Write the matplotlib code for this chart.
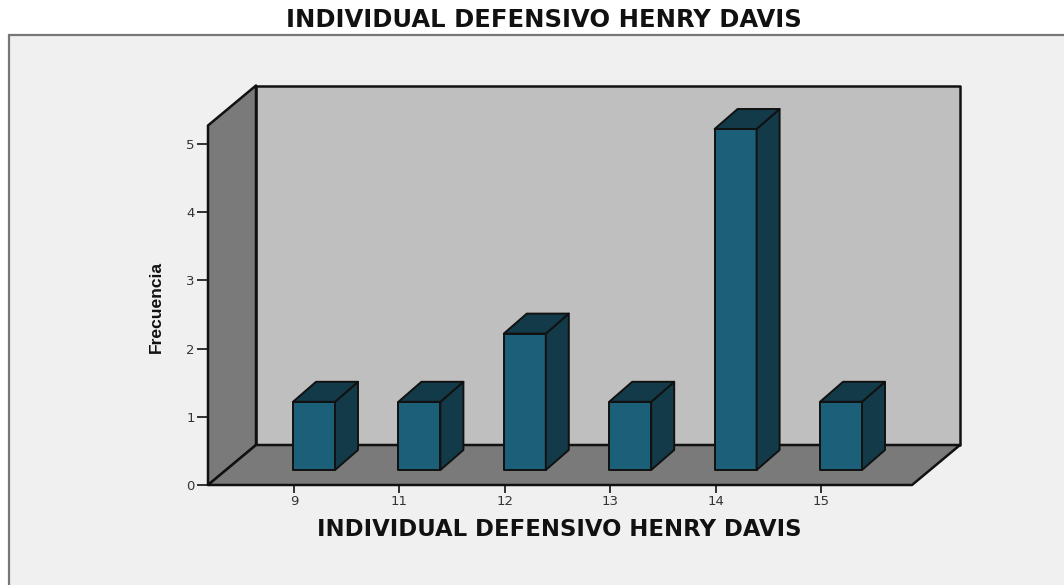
import matplotlib
matplotlib.use("Agg")
import matplotlib.pyplot as plt
from matplotlib.patches import Polygon, Rectangle

categories = ["9", "11", "12", "13", "14", "15"]
frecuencia = [1, 1, 2, 1, 5, 1]
y_ticks = [0, 1, 2, 3, 4, 5]
title = "INDIVIDUAL DEFENSIVO HENRY DAVIS"
xlabel = "INDIVIDUAL DEFENSIVO HENRY DAVIS"
ylabel = "Frecuencia"

W, H = 1064, 585
PANEL = "#f0f0f0"
BACK = "#bfbfbf"
SIDE = "#7a7a7a"
FRONT = "#1c5f78"
DARK = "#123a48"
EDGE = "#111111"

fig = plt.figure(figsize=(W / 100, H / 100), dpi=100, facecolor="white")
fig.add_artist(Rectangle((9 / W, -0.01), 1.01, 1 - 35 / H + 0.01, transform=fig.transFigure,
                         fc=PANEL, ec="#777777", lw=1.6, zorder=-1))

# plot box: left/right of front plane, y baseline to top of the side wall
px_left, px_right, px_base, px_top = 208, 912, 485, 125.5
ax = fig.add_axes([px_left / W, 1 - px_base / H, (px_right - px_left) / W, (px_base - px_top) / H])
ppx = 105.4            # pixels per category step
ppy = 68.2             # pixels per frequency unit
first_tick_px = 294
ax.set_xlim((px_left - first_tick_px) / ppx, (px_right - first_tick_px) / ppx)
ax.set_ylim(0, (px_base - px_top) / ppy)
ax.patch.set_visible(False)

dx, dy = 48 / ppx, 40 / ppy         # depth of the chart box
bx, by = 23 / ppx, 20 / ppy         # depth of a bar
x0, x1 = ax.get_xlim()
y0, y1 = ax.get_ylim()
lw = 1.8


def poly(points, fc, z, lw=lw):
    ax.add_patch(Polygon(points, closed=True, fc=fc, ec=EDGE, lw=lw, joinstyle="round",
                         clip_on=False, zorder=z))


poly([(x0 + dx, y0 + dy), (x1 + dx, y0 + dy), (x1 + dx, y1 + dy), (x0 + dx, y1 + dy)], BACK, 1)
poly([(x0, y0), (x0 + dx, y0 + dy), (x0 + dx, y1 + dy), (x0, y1)], SIDE, 2)
poly([(x0, y0), (x1, y0), (x1 + dx, y0 + dy), (x0 + dx, y0 + dy)], SIDE, 2)

bar_w = 42 / ppx
front_off = 20 / ppx - bar_w / 2    # front face is shifted forward of the tick position
base = 15 / ppy
for i, v in enumerate(frecuencia):
    l = i + front_off
    r = l + bar_w
    b, t = base, base + v
    z = 3 + i
    poly([(l, b), (r, b), (r, t), (l, t)], FRONT, z, 1.4)
    poly([(r, b), (r + bx, b + by), (r + bx, t + by), (r, t)], DARK, z, 1.4)
    poly([(l, t), (r, t), (r + bx, t + by), (l + bx, t + by)], DARK, z, 1.4)

ax.set_xticks(range(len(categories)), categories)
ax.set_yticks(y_ticks)
for s in ax.spines.values():
    s.set_visible(False)
ax.tick_params(axis="both", width=1.3, color="#222222", labelcolor="#333333", labelsize=9.5)
ax.tick_params(axis="y", length=8, pad=1.5)
ax.tick_params(axis="x", length=6, pad=1)

fig.text(544 / W, 1 - 20 / H, title, ha="center", va="center", fontsize=17.5,
         family=["DejaVu Sans"], color="#111111", fontweight="bold")
fig.text(559 / W, 1 - 530 / H, xlabel, ha="center", va="center", fontsize=16.4,
         family=["DejaVu Sans"], color="#111111", fontweight="bold")
fig.text(156 / W, 1 - 307 / H, ylabel, ha="center", va="center", rotation=90, fontsize=12.6,
         family=["Liberation Sans"], color="#111111", fontweight="bold")

fig.savefig("out.png", dpi=100)
